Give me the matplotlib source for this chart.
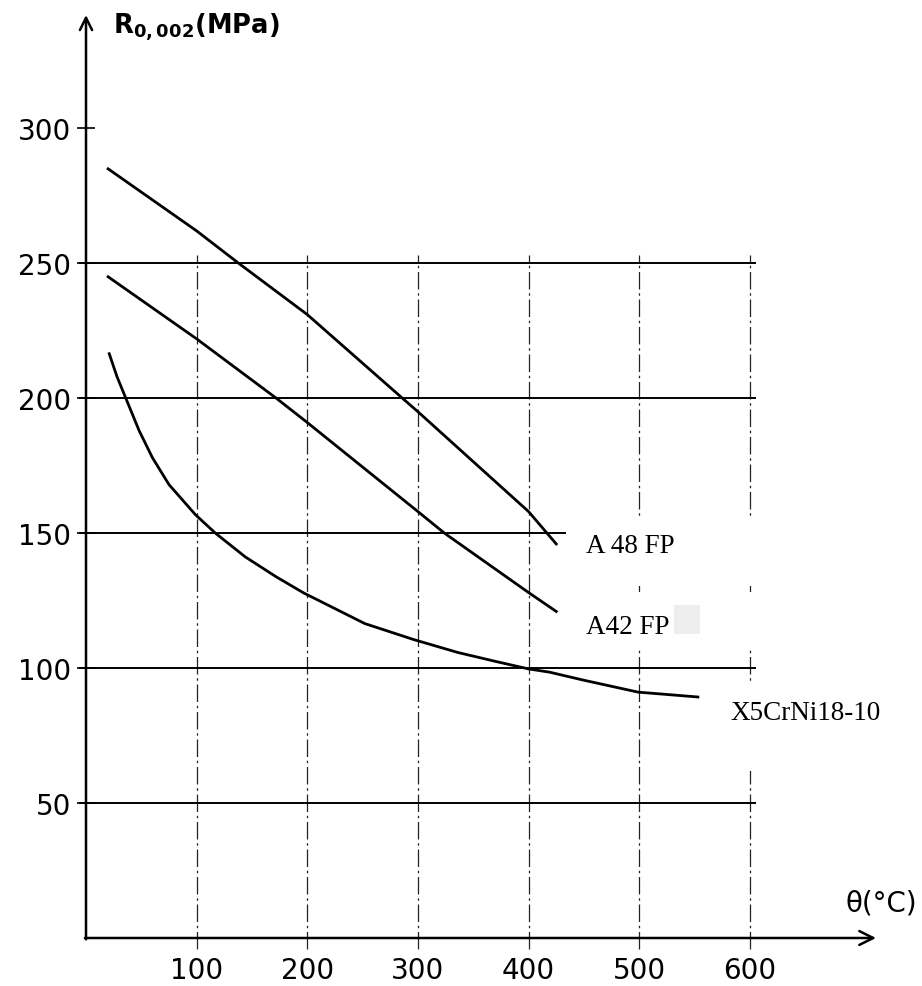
import matplotlib
matplotlib.use('Agg')
import matplotlib.pyplot as plt
from matplotlib.patches import Rectangle

# Yield strength R0,002 (MPa) against temperature (°C)
t_a48 = [20, 100, 138, 200, 286, 300, 400, 425]
r_a48 = [285, 262, 250, 231, 200, 195, 158, 146]

t_a42 = [20, 100, 172, 200, 300, 324, 400, 425]
r_a42 = [245, 222, 200, 191, 158, 150, 128, 121]

t_x5 = [21, 28, 36, 48, 60, 75, 99, 117, 144, 172, 197, 252, 296, 336,
        370, 400, 419, 449, 499, 553]
r_x5 = [216.5, 208, 200, 188, 178, 168, 156.8, 150, 141.2, 133.8,
        127.8, 116.5, 110.6, 105.8, 102.5, 99.7, 98.5, 95.6, 91.1, 89.3]

x_ticks = [100, 200, 300, 400, 500, 600]
y_ticks = [50, 100, 150, 200, 250, 300]
h_lines = [50, 100, 150, 200, 250]

fig = plt.figure(figsize=(9.22, 9.87), dpi=100)
ax = fig.add_axes([86 / 922, 48 / 987, 790 / 922, 923 / 987])
ax.set_xlim(0, 714)
ax.set_ylim(0, 342)
for s in ax.spines.values():
    s.set_visible(False)

# grid: horizontal lines (150 is cut short for the labels), dash-dot verticals
for r in h_lines:
    end = 433 if r == 150 else 605
    ax.plot([-5, end], [r, r], color='black', lw=1.4, clip_on=False, zorder=2)
for t in x_ticks:
    ax.plot([t, t], [-4, 253], color='#222222', lw=0.9,
            ls=(0, (14, 3, 2, 3)), clip_on=False, zorder=1)

# axes with arrows
ax.annotate('', xy=(714, 0), xytext=(-1, 0),
            arrowprops=dict(arrowstyle='->', lw=1.8, color='black',
                            mutation_scale=25, shrinkA=0, shrinkB=0),
            annotation_clip=False)
ax.annotate('', xy=(0, 342), xytext=(0, -0.5),
            arrowprops=dict(arrowstyle='->', lw=1.8, color='black',
                            mutation_scale=22, shrinkA=0, shrinkB=0),
            annotation_clip=False)

# curves
ax.plot(t_a48, r_a48, color='black', lw=2.0, zorder=4)
ax.plot(t_a42, r_a42, color='black', lw=2.0, zorder=4)
ax.plot(t_x5, r_x5, color='black', lw=2.0, zorder=4)

# white blanks behind the labels (they cut the gridlines in the scan)
ax.add_patch(Rectangle((440, 130.5), 175, 25.5, facecolor='white',
                       edgecolor='none', zorder=3))
ax.add_patch(Rectangle((440, 108), 175, 19.5, facecolor='white',
                       edgecolor='none', zorder=3))
ax.add_patch(Rectangle((570, 62), 150, 32, facecolor='white',
                       edgecolor='none', zorder=3))
ax.add_patch(Rectangle((531, 112.5), 24, 11, facecolor='#eeeeee',
                       edgecolor='none', zorder=3))

serif = 'Liberation Serif'
ax.text(452, 145.5, 'A 48 FP', fontsize=19.5, family=serif, va='center', zorder=5)
ax.text(452, 115.5, 'A42 FP', fontsize=19.5, family=serif, va='center', zorder=5)
ax.text(582, 83.5, 'X5CrNi18-10', fontsize=19.5, family=serif, va='center', zorder=5)

# ticks
ax.set_xticks(x_ticks)
ax.set_xticklabels([str(v) for v in x_ticks])
ax.set_yticks(y_ticks)
ax.set_yticklabels([str(v) for v in y_ticks])
ax.tick_params(axis='x', length=0, pad=13, labelsize=20)
ax.tick_params(axis='y', direction='inout', length=13, width=1.2, pad=4,
               labelsize=20)

# axis titles
ax.text(24, 338, r'$\mathbf{R_{0,002}}$(MPa)', fontsize=18.5, fontweight='bold',
        va='center', ha='left')
ax.text(751, 13.3, 'θ(°C)', fontsize=20, va='center', ha='right')

fig.savefig('out.png', dpi=100)
